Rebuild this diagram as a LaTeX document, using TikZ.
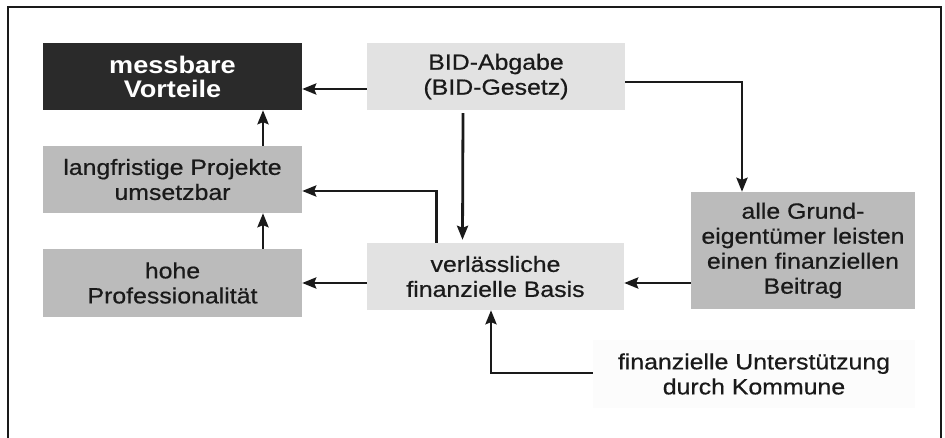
\documentclass[tikz,border=0pt]{standalone}
\usepackage{fontspec}
\setmainfont[FakeStretch=1.13]{Liberation Sans}
\newfontfamily\boxfont[FakeStretch=1.13,FakeBold=0.6]{Liberation Sans}
\usetikzlibrary{arrows.meta}
\definecolor{boxdark}{HTML}{2A2A2A}
\definecolor{boxlight}{HTML}{E2E2E2}
\definecolor{boxmid}{HTML}{BBBBBB}
\definecolor{boxfaint}{HTML}{FCFCFC}
\definecolor{ink}{HTML}{1A1A1A}
\tikzset{
  box/.style={rectangle, inner sep=0pt, align=center, text=ink,
    font=\boxfont\fontsize{22}{25}\selectfont},
  darkbox/.style={box, fill=boxdark, text=white,
    font=\fontsize{24}{24}\selectfont\bfseries},
  lightbox/.style={box, fill=boxlight},
  midbox/.style={box, fill=boxmid},
  arr/.style={draw=ink, line width=2.8pt, -{Stealth[length=14pt,width=11pt,inset=2pt]}},
  frameline/.style={draw=ink, line width=2.2pt}
}
\begin{document}
\begin{tikzpicture}[x=1pt,y=-1pt]
\useasboundingbox (0,0) rectangle (945,438);
\draw[frameline] (8,438) -- (8,7) -- (941,7) -- (941,438);

\node[darkbox, minimum width=259pt, minimum height=67pt] (mv) at (172.5,76.5) {messbare\\Vorteile};
\node[lightbox, minimum width=258pt, minimum height=67pt] (bid) at (496,76.5) {BID-Abgabe\\(BID-Gesetz)};
\node[midbox, minimum width=259pt, minimum height=67pt] (lang) at (172.5,179.5) {langfristige Projekte\\umsetzbar};
\node[midbox, minimum width=259pt, minimum height=68pt] (hohe) at (172.5,283) {hohe\\Professionalität};
\node[lightbox, minimum width=257pt, minimum height=67pt] (basis) at (495.5,276.5) {verlässliche\\finanzielle Basis};
\node[midbox, minimum width=224pt, minimum height=117pt] (grund) at (803,250.5) {alle Grund-\\eigentümer leisten\\einen finanziellen\\Beitrag};
\node[box, fill=boxfaint, minimum width=322pt, minimum height=68pt] (komm) at (754,374) {finanzielle Unterstützung\\durch Kommune};

\draw[arr] ([yshift=-12.5pt]bid.west) -- ([yshift=-12.5pt]mv.east);
\draw[arr] ([yshift=-5.5pt]bid.east) -| ([xshift=-61pt]grund.north);
\draw[arr] ([xshift=-33pt,yshift=-3pt]bid.south) -- ([xshift=-33pt,yshift=3pt]basis.north);
\draw[arr] ([xshift=-59pt]basis.north) |- ([yshift=-11.5pt]lang.east);
\draw[arr] (basis.west |- hohe.east) -- (hohe.east);
\draw[arr] (grund.west |- hohe.east) -- (basis.east |- hohe.east);
\draw[arr] ([xshift=90.5pt]hohe.north) -- ([xshift=90.5pt]lang.south);
\draw[arr] ([xshift=90.5pt]lang.north) -- ([xshift=90.5pt]mv.south);
\draw[arr] ([yshift=1pt]komm.west) -| ([xshift=-4.5pt]basis.south);
\end{tikzpicture}
\end{document}
